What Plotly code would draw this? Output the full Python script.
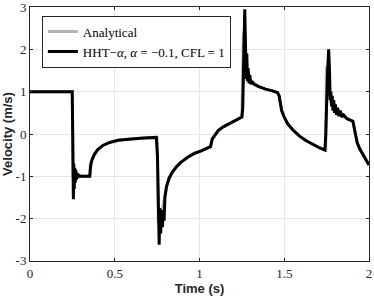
import plotly.graph_objects as go

# Analytical solution (hand-read)
t_ana = [0, 0.25, 0.2535, 0.355, 0.3555, 0.365, 0.38, 0.40, 0.43, 0.47, 0.52, 0.58, 0.65, 0.70, 0.75,
         0.7565, 0.766, 0.78, 0.79, 0.805, 0.82, 0.84, 0.865, 0.89, 0.93, 0.97, 1.01, 1.05, 1.065,
         1.075, 1.09, 1.11, 1.14, 1.18, 1.22, 1.25, 1.259, 1.272, 1.29, 1.31, 1.35, 1.39, 1.43, 1.46,
         1.47, 1.485, 1.50, 1.52, 1.55, 1.59, 1.63, 1.67, 1.71, 1.745, 1.7485, 1.76, 1.78, 1.80,
         1.83, 1.85, 1.87, 1.89, 1.905, 1.915, 1.93, 1.945, 1.965, 1.985, 2.0]
v_ana = [1, 1, -1, -1, -0.7, -0.62, -0.48, -0.37, -0.27, -0.2, -0.15, -0.12, -0.1, -0.09, -0.08,
         -2.1, -2.0, -1.8, -1.55, -1.25, -1.05, -0.9, -0.77, -0.67, -0.55, -0.46, -0.4, -0.34, -0.3,
         -0.12, -0.02, 0.08, 0.17, 0.26, 0.34, 0.4, 2.4, 1.5, 1.3, 1.22, 1.12, 1.06, 1.02, 0.98,
         0.9, 0.55, 0.4, 0.24, 0.1, -0.05, -0.16, -0.25, -0.33, -0.38, 1.6, 1.0, 0.7, 0.6,
         0.5, 0.45, 0.36, 0.33, 0.3, 0.1, -0.2, -0.35, -0.5, -0.62, -0.73]

# HHT-alpha numerical solution (hand-read)
t_num = [0, 0.249, 0.252, 0.256, 0.258, 0.261, 0.264, 0.267, 0.270, 0.274, 0.278, 0.283, 0.290,
         0.300, 0.352, 0.358, 0.365, 0.38, 0.40, 0.43, 0.47, 0.52, 0.58, 0.65, 0.70, 0.745,
         0.752, 0.758, 0.762, 0.766, 0.771, 0.776, 0.781, 0.786, 0.791, 0.796, 0.805, 0.82,
         0.84, 0.865, 0.89, 0.93, 0.97, 1.01, 1.05, 1.065, 1.075, 1.09, 1.11, 1.14, 1.18, 1.22,
         1.25, 1.255, 1.262, 1.267, 1.272, 1.276, 1.279, 1.283, 1.287, 1.292, 1.297, 1.302,
         1.31, 1.32, 1.35, 1.39, 1.43, 1.46, 1.47, 1.485, 1.50, 1.52, 1.55, 1.59, 1.63, 1.67,
         1.71, 1.74, 1.745, 1.755, 1.762, 1.767, 1.771, 1.775, 1.779, 1.783, 1.787, 1.792,
         1.797, 1.802, 1.808, 1.815, 1.822, 1.83, 1.84, 1.85, 1.87, 1.89, 1.905, 1.915, 1.93,
         1.945, 1.965, 1.985, 2.0]
v_num = [1, 1, 0.0, -1.54, -0.7, -1.3, -0.8, -1.15, -0.85, -1.08, -0.92, -1.03, -0.98,
         -1.0, -1.0, -0.75, -0.62, -0.48, -0.37, -0.27, -0.2, -0.15, -0.12, -0.1, -0.09, -0.08,
         -0.5, -2.0, -2.62, -1.75, -2.35, -1.8, -2.2, -1.9, -2.05, -1.5, -1.25, -1.05,
         -0.9, -0.77, -0.67, -0.55, -0.46, -0.4, -0.34, -0.3, -0.12, -0.02, 0.08, 0.17, 0.26, 0.34,
         0.4, 0.6, 2.2, 2.95, 2.0, 1.3, 1.9, 1.25, 1.55, 1.2, 1.4, 1.18,
         1.25, 1.18, 1.12, 1.06, 1.02, 0.98, 0.9, 0.55, 0.4, 0.24, 0.1, -0.05, -0.16, -0.25,
         -0.33, -0.38, 0.0, 1.4, 2.0, 1.5, 0.8, 1.0, 0.65, 0.9, 0.55, 0.8,
         0.5, 0.7, 0.45, 0.62, 0.42, 0.55, 0.4, 0.45, 0.36, 0.33, 0.3, 0.1, -0.2,
         -0.35, -0.5, -0.62, -0.73]

x_ticks = [0, 0.5, 1, 1.5, 2]
x_tick_labels = ["0", "0.5", "1", "1.5", "2"]
y_ticks = [-3, -2, -1, 0, 1, 2, 3]
y_tick_labels = ["-3", "-2", "-1", "0", "1", "2", "3"]

SERIF = "Liberation Serif, Times New Roman, serif"
SANS = "Liberation Sans, Arial, sans-serif"

fig = go.Figure()
fig.add_trace(go.Scatter(x=t_ana, y=v_ana, mode="lines", name="Analytical",
                         line=dict(color="#b3b3b3", width=3)))
fig.add_trace(go.Scatter(x=t_num, y=v_num, mode="lines",
                         name="HHT\u2212<i>\u03b1</i>, <i>\u03b1</i> = \u22120.1, CFL = 1",
                         line=dict(color="black", width=3)))

axis_common = dict(showline=True, linecolor="#262626", linewidth=1, mirror="ticks",
                   ticks="inside", ticklen=3, tickcolor="#262626",
                   showgrid=True, gridcolor="#e6e6e6", gridwidth=1, zeroline=False,
                   ticklabeloverflow="allow", automargin=False,
                   tickfont=dict(family=SERIF, size=13, color="#262626"))

fig.update_layout(
    width=374, height=299,
    margin=dict(l=30, r=5, t=7, b=38),
    plot_bgcolor="white", paper_bgcolor="white",
    showlegend=True,
    legend=dict(x=0.035, y=0.966, xanchor="left", yanchor="top",
                bordercolor="#262626", borderwidth=1, bgcolor="white",
                font=dict(family=SERIF, size=13, color="black"),
                tracegroupgap=0, itemwidth=30),
    xaxis=dict(range=[0, 2], tickvals=x_ticks, ticktext=x_tick_labels,
               title=dict(text="<b>Time (s)</b>", standoff=2,
                          font=dict(family=SANS, size=13, color="#262626")),
               **axis_common),
    yaxis=dict(range=[-3.002, 3.002], tickvals=y_ticks, ticktext=y_tick_labels,
               title=dict(text="<b>Velocity (m/s)</b>", standoff=2,
                          font=dict(family=SANS, size=13, color="#262626")),
               **axis_common),
)

fig.write_html("out.html", config={"displayModeBar": False},
               post_script="document.body.style.margin='0';document.body.style.overflow='hidden';")
